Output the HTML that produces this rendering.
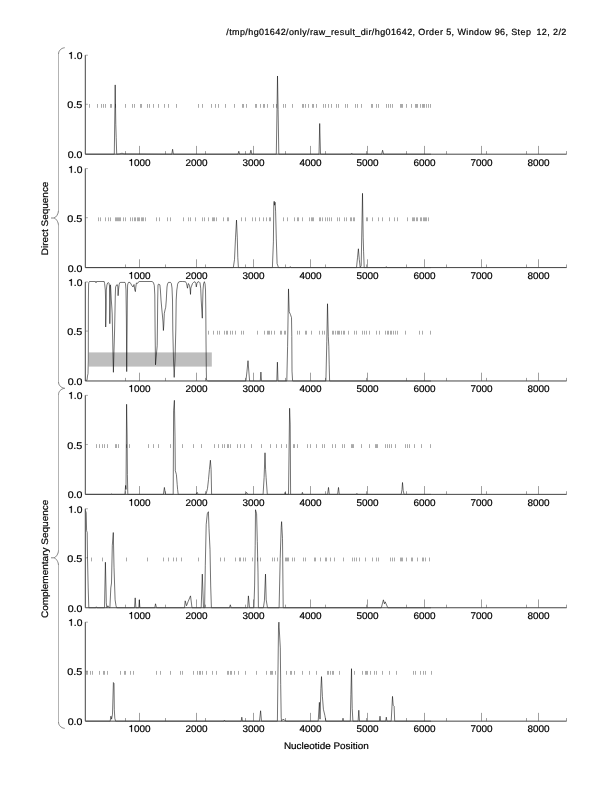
<!DOCTYPE html><html><head><meta charset="utf-8"><style>html,body{margin:0;padding:0;background:#fff;}svg{display:block;will-change:transform;}text{font-family:"Liberation Sans",sans-serif;stroke:#000;stroke-width:0.2px;text-rendering:geometricPrecision;}</style></head><body>
<svg width="612" height="792" viewBox="0 0 612 792">
<rect x="0" y="0" width="612" height="792" fill="#fff"/>
<text x="566.3" y="35.0" font-size="9" text-anchor="end" textLength="340" lengthAdjust="spacing" fill="#000">/tmp/hg01642/only/raw_result_dir/hg01642, Order 5, Window 96, Step &#8201;12, 2/2</text>
<path d="M89.5 104.00v3.8M97.5 104.00v3.8M101.5 104.00v3.8M103.5 104.00v3.8M105.5 104.00v3.8M110.5 104.00v3.8M111.5 104.00v3.8M115.5 104.00v3.8M125.5 104.00v3.8M132.5 104.00v3.8M134.5 104.00v3.8M140.5 104.00v3.8M141.5 104.00v3.8M147.5 104.00v3.8M149.5 104.00v3.8M153.5 104.00v3.8M158.5 104.00v3.8M164.5 104.00v3.8M168.5 104.00v3.8M176.5 104.00v3.8M198.5 104.00v3.8M202.5 104.00v3.8M211.5 104.00v3.8M215.5 104.00v3.8M218.5 104.00v3.8M225.5 104.00v3.8M234.5 104.00v3.8M242.5 104.00v3.8M243.5 104.00v3.8M246.5 104.00v3.8M255.5 104.00v3.8M256.5 104.00v3.8M260.5 104.00v3.8M263.5 104.00v3.8M264.5 104.00v3.8M267.5 104.00v3.8M273.5 104.00v3.8M276.5 104.00v3.8M283.5 104.00v3.8M285.5 104.00v3.8M292.5 104.00v3.8M302.5 104.00v3.8M303.5 104.00v3.8M305.5 104.00v3.8M308.5 104.00v3.8M312.5 104.00v3.8M313.5 104.00v3.8M316.5 104.00v3.8M323.5 104.00v3.8M325.5 104.00v3.8M328.5 104.00v3.8M331.5 104.00v3.8M336.5 104.00v3.8M338.5 104.00v3.8M345.5 104.00v3.8M347.5 104.00v3.8M355.5 104.00v3.8M357.5 104.00v3.8M361.5 104.00v3.8M371.5 104.00v3.8M372.5 104.00v3.8M376.5 104.00v3.8M378.5 104.00v3.8M386.5 104.00v3.8M388.5 104.00v3.8M390.5 104.00v3.8M392.5 104.00v3.8M400.5 104.00v3.8M401.5 104.00v3.8M402.5 104.00v3.8M406.5 104.00v3.8M411.5 104.00v3.8M415.5 104.00v3.8M416.5 104.00v3.8M417.5 104.00v3.8M420.5 104.00v3.8M422.5 104.00v3.8M423.5 104.00v3.8M424.5 104.00v3.8M426.5 104.00v3.8M428.5 104.00v3.8M430.5 104.00v3.8" stroke="#aaa" stroke-width="1" fill="none"/>
<path d="M125.5 154.20V151.10M165.5 154.20V151.10M205.5 154.20V151.10M245.5 154.20V151.10M285.5 154.20V151.10M325.5 154.20V151.10M366.5 154.20V151.10M406.5 154.20V151.10M446.5 154.20V151.10M486.5 154.20V151.10M526.5 154.20V151.10M566.5 154.20V151.10M139.5 154.20V145.90M196.5 154.20V145.90M253.5 154.20V145.90M310.5 154.20V145.90M367.5 154.20V145.90M424.5 154.20V145.90M481.5 154.20V145.90M538.5 154.20V145.90" stroke="#a0a0a0" stroke-width="1" fill="none"/>
<path d="M85.30 55.20h2.6M85.30 104.30h2.6" stroke="#888" stroke-width="0.7" fill="none"/>
<path d="M85.50 154.20 L114.30 154.20 L115.20 84.90 L115.80 124.50 L116.20 137.37 L116.70 154.20 L120.00 153.80 L122.00 153.21 L124.00 153.90 L171.80 154.20 L172.60 149.25 L173.40 154.20 L238.00 154.20 L238.80 151.23 L239.60 154.20 L250.00 154.20 L250.90 150.24 L251.80 154.20 L276.30 154.20 L277.00 109.65 L277.50 75.99 L278.10 109.65 L278.80 154.20 L319.00 154.20 L319.70 123.51 L320.50 154.20 L351.20 154.20 L351.80 153.21 L352.40 154.20 L381.60 154.20 L382.60 150.24 L383.60 154.20 L431.00 154.20" stroke="#000" stroke-width="0.55" fill="none" stroke-linejoin="round"/>
<path d="M85.30 55.20V154.20H566.60" stroke="#444" stroke-width="1" fill="none"/>
<path transform="translate(68.100 58.800) scale(0.01029 -0.00970)" d="M359 0L271 0L271 503L101 503L101 566C200 576 252 598 282 703L359 703Z" fill="#000" stroke="#000" stroke-width="0.2" vector-effect="non-scaling-stroke"/>
<text x="82.4" y="58.80" font-size="9.7" text-anchor="end" textLength="8.58" lengthAdjust="spacingAndGlyphs">.0</text>
<text x="82.4" y="107.80" font-size="9.7" text-anchor="end" textLength="15.10" lengthAdjust="spacingAndGlyphs">0.5</text>
<text x="82.4" y="157.80" font-size="9.7" text-anchor="end" textLength="14.70" lengthAdjust="spacingAndGlyphs">0.0</text>
<path transform="translate(128.450 165.800) scale(0.00994 -0.00970)" d="M359 0L271 0L271 503L101 503L101 566C200 576 252 598 282 703L359 703Z" fill="#000" stroke="#000" stroke-width="0.2" vector-effect="non-scaling-stroke"/>
<text x="133.97" y="165.80" font-size="9.7" textLength="16.58" lengthAdjust="spacingAndGlyphs">000</text>
<text x="196.50" y="165.80" font-size="9.7" text-anchor="middle" textLength="22.10" lengthAdjust="spacingAndGlyphs">2000</text>
<text x="253.50" y="165.80" font-size="9.7" text-anchor="middle" textLength="22.10" lengthAdjust="spacingAndGlyphs">3000</text>
<text x="310.50" y="165.80" font-size="9.7" text-anchor="middle" textLength="22.10" lengthAdjust="spacingAndGlyphs">4000</text>
<text x="367.50" y="165.80" font-size="9.7" text-anchor="middle" textLength="22.10" lengthAdjust="spacingAndGlyphs">5000</text>
<text x="424.50" y="165.80" font-size="9.7" text-anchor="middle" textLength="22.10" lengthAdjust="spacingAndGlyphs">6000</text>
<text x="481.50" y="165.80" font-size="9.7" text-anchor="middle" textLength="22.10" lengthAdjust="spacingAndGlyphs">7000</text>
<text x="538.50" y="165.80" font-size="9.7" text-anchor="middle" textLength="22.10" lengthAdjust="spacingAndGlyphs">8000</text>
<path d="M98.5 217.39v3.8M100.5 217.39v3.8M105.5 217.39v3.8M108.5 217.39v3.8M110.5 217.39v3.8M115.5 217.39v3.8M116.5 217.39v3.8M117.5 217.39v3.8M118.5 217.39v3.8M119.5 217.39v3.8M120.5 217.39v3.8M123.5 217.39v3.8M125.5 217.39v3.8M130.5 217.39v3.8M132.5 217.39v3.8M134.5 217.39v3.8M135.5 217.39v3.8M137.5 217.39v3.8M138.5 217.39v3.8M139.5 217.39v3.8M141.5 217.39v3.8M142.5 217.39v3.8M143.5 217.39v3.8M145.5 217.39v3.8M156.5 217.39v3.8M159.5 217.39v3.8M167.5 217.39v3.8M170.5 217.39v3.8M183.5 217.39v3.8M188.5 217.39v3.8M190.5 217.39v3.8M195.5 217.39v3.8M202.5 217.39v3.8M204.5 217.39v3.8M208.5 217.39v3.8M212.5 217.39v3.8M213.5 217.39v3.8M214.5 217.39v3.8M216.5 217.39v3.8M223.5 217.39v3.8M227.5 217.39v3.8M228.5 217.39v3.8M241.5 217.39v3.8M245.5 217.39v3.8M252.5 217.39v3.8M255.5 217.39v3.8M259.5 217.39v3.8M263.5 217.39v3.8M266.5 217.39v3.8M269.5 217.39v3.8M270.5 217.39v3.8M283.5 217.39v3.8M287.5 217.39v3.8M294.5 217.39v3.8M297.5 217.39v3.8M298.5 217.39v3.8M302.5 217.39v3.8M309.5 217.39v3.8M311.5 217.39v3.8M312.5 217.39v3.8M313.5 217.39v3.8M319.5 217.39v3.8M320.5 217.39v3.8M322.5 217.39v3.8M325.5 217.39v3.8M327.5 217.39v3.8M329.5 217.39v3.8M331.5 217.39v3.8M337.5 217.39v3.8M339.5 217.39v3.8M344.5 217.39v3.8M346.5 217.39v3.8M350.5 217.39v3.8M351.5 217.39v3.8M353.5 217.39v3.8M354.5 217.39v3.8M366.5 217.39v3.8M367.5 217.39v3.8M372.5 217.39v3.8M378.5 217.39v3.8M382.5 217.39v3.8M389.5 217.39v3.8M394.5 217.39v3.8M397.5 217.39v3.8M407.5 217.39v3.8M412.5 217.39v3.8M413.5 217.39v3.8M414.5 217.39v3.8M416.5 217.39v3.8M417.5 217.39v3.8M420.5 217.39v3.8M421.5 217.39v3.8M423.5 217.39v3.8M424.5 217.39v3.8M425.5 217.39v3.8M426.5 217.39v3.8M428.5 217.39v3.8" stroke="#aaa" stroke-width="1" fill="none"/>
<path d="M125.5 267.59V264.49M165.5 267.59V264.49M205.5 267.59V264.49M245.5 267.59V264.49M285.5 267.59V264.49M325.5 267.59V264.49M366.5 267.59V264.49M406.5 267.59V264.49M446.5 267.59V264.49M486.5 267.59V264.49M526.5 267.59V264.49M566.5 267.59V264.49M139.5 267.59V259.29M196.5 267.59V259.29M253.5 267.59V259.29M310.5 267.59V259.29M367.5 267.59V259.29M424.5 267.59V259.29M481.5 267.59V259.29M538.5 267.59V259.29" stroke="#a0a0a0" stroke-width="1" fill="none"/>
<path d="M85.30 168.59h2.6M85.30 217.69h2.6" stroke="#888" stroke-width="0.7" fill="none"/>
<path d="M85.50 267.59 L233.30 267.59 L234.50 259.67 L235.50 237.89 L236.50 220.07 L237.30 237.89 L237.80 257.69 L238.40 267.59 L272.40 267.59 L273.40 241.85 L273.80 203.24 L274.20 201.26 L274.60 205.22 L275.10 202.25 L275.60 211.16 L276.30 238.88 L277.10 263.63 L278.50 267.59 L289.50 267.59 L290.30 266.60 L291.00 267.59 L356.50 267.59 L357.50 257.69 L358.40 248.78 L359.30 259.67 L360.20 267.59 L361.20 265.61 L362.50 193.34 L363.20 237.89 L363.60 251.75 L364.20 267.59 L385.80 267.59 L386.30 266.60 L386.80 267.59 L431.00 267.59" stroke="#000" stroke-width="0.55" fill="none" stroke-linejoin="round"/>
<path d="M85.30 168.59V267.59H566.60" stroke="#444" stroke-width="1" fill="none"/>
<path transform="translate(68.100 172.800) scale(0.01029 -0.00970)" d="M359 0L271 0L271 503L101 503L101 566C200 576 252 598 282 703L359 703Z" fill="#000" stroke="#000" stroke-width="0.2" vector-effect="non-scaling-stroke"/>
<text x="82.4" y="172.80" font-size="9.7" text-anchor="end" textLength="8.58" lengthAdjust="spacingAndGlyphs">.0</text>
<text x="82.4" y="221.80" font-size="9.7" text-anchor="end" textLength="15.10" lengthAdjust="spacingAndGlyphs">0.5</text>
<text x="82.4" y="271.80" font-size="9.7" text-anchor="end" textLength="14.70" lengthAdjust="spacingAndGlyphs">0.0</text>
<path transform="translate(128.450 278.800) scale(0.00994 -0.00970)" d="M359 0L271 0L271 503L101 503L101 566C200 576 252 598 282 703L359 703Z" fill="#000" stroke="#000" stroke-width="0.2" vector-effect="non-scaling-stroke"/>
<text x="133.97" y="278.80" font-size="9.7" textLength="16.58" lengthAdjust="spacingAndGlyphs">000</text>
<text x="196.50" y="278.80" font-size="9.7" text-anchor="middle" textLength="22.10" lengthAdjust="spacingAndGlyphs">2000</text>
<text x="253.50" y="278.80" font-size="9.7" text-anchor="middle" textLength="22.10" lengthAdjust="spacingAndGlyphs">3000</text>
<text x="310.50" y="278.80" font-size="9.7" text-anchor="middle" textLength="22.10" lengthAdjust="spacingAndGlyphs">4000</text>
<text x="367.50" y="278.80" font-size="9.7" text-anchor="middle" textLength="22.10" lengthAdjust="spacingAndGlyphs">5000</text>
<text x="424.50" y="278.80" font-size="9.7" text-anchor="middle" textLength="22.10" lengthAdjust="spacingAndGlyphs">6000</text>
<text x="481.50" y="278.80" font-size="9.7" text-anchor="middle" textLength="22.10" lengthAdjust="spacingAndGlyphs">7000</text>
<text x="538.50" y="278.80" font-size="9.7" text-anchor="middle" textLength="22.10" lengthAdjust="spacingAndGlyphs">8000</text>
<rect x="88.80" y="352.40" width="123.00" height="14.20" fill="#bebebe"/>
<path d="M208.5 330.78v3.8M213.5 330.78v3.8M217.5 330.78v3.8M219.5 330.78v3.8M224.5 330.78v3.8M226.5 330.78v3.8M227.5 330.78v3.8M230.5 330.78v3.8M232.5 330.78v3.8M235.5 330.78v3.8M241.5 330.78v3.8M243.5 330.78v3.8M257.5 330.78v3.8M264.5 330.78v3.8M267.5 330.78v3.8M268.5 330.78v3.8M269.5 330.78v3.8M271.5 330.78v3.8M274.5 330.78v3.8M280.5 330.78v3.8M281.5 330.78v3.8M284.5 330.78v3.8M285.5 330.78v3.8M297.5 330.78v3.8M299.5 330.78v3.8M305.5 330.78v3.8M306.5 330.78v3.8M311.5 330.78v3.8M319.5 330.78v3.8M322.5 330.78v3.8M324.5 330.78v3.8M332.5 330.78v3.8M333.5 330.78v3.8M335.5 330.78v3.8M337.5 330.78v3.8M338.5 330.78v3.8M339.5 330.78v3.8M341.5 330.78v3.8M343.5 330.78v3.8M344.5 330.78v3.8M348.5 330.78v3.8M354.5 330.78v3.8M356.5 330.78v3.8M362.5 330.78v3.8M364.5 330.78v3.8M366.5 330.78v3.8M369.5 330.78v3.8M376.5 330.78v3.8M379.5 330.78v3.8M385.5 330.78v3.8M387.5 330.78v3.8M388.5 330.78v3.8M390.5 330.78v3.8M391.5 330.78v3.8M393.5 330.78v3.8M395.5 330.78v3.8M397.5 330.78v3.8M405.5 330.78v3.8M419.5 330.78v3.8M422.5 330.78v3.8M430.5 330.78v3.8" stroke="#aaa" stroke-width="1" fill="none"/>
<path d="M125.5 380.98V377.88M165.5 380.98V377.88M205.5 380.98V377.88M245.5 380.98V377.88M285.5 380.98V377.88M325.5 380.98V377.88M366.5 380.98V377.88M406.5 380.98V377.88M446.5 380.98V377.88M486.5 380.98V377.88M526.5 380.98V377.88M566.5 380.98V377.88M139.5 380.98V372.68M196.5 380.98V372.68M253.5 380.98V372.68M310.5 380.98V372.68M367.5 380.98V372.68M424.5 380.98V372.68M481.5 380.98V372.68M538.5 380.98V372.68" stroke="#a0a0a0" stroke-width="1" fill="none"/>
<path d="M85.30 281.98h2.6M85.30 331.08h2.6" stroke="#888" stroke-width="0.7" fill="none"/>
<path d="M85.50 380.40 L87.00 380.30 L87.50 376.00 L88.00 373.60 L88.30 360.00 L88.40 300.00 L88.60 284.00 L89.00 282.10 L89.50 281.50 L93.00 281.50 L95.50 281.50 L96.00 282.80 L96.50 281.50 L104.20 281.50 L104.60 283.50 L105.30 290.00 L105.60 300.00 L105.70 327.00 L106.10 310.00 L106.30 290.00 L106.90 285.00 L107.60 283.00 L108.50 282.60 L109.00 283.20 L109.50 286.00 L109.70 300.00 L109.80 323.70 L110.20 300.00 L110.30 285.00 L110.50 284.80 L110.80 290.00 L111.30 300.00 L111.80 307.00 L112.20 314.00 L112.50 330.00 L112.80 345.00 L113.00 355.00 L113.40 372.30 L114.00 350.00 L114.60 330.00 L115.00 310.00 L115.30 295.00 L115.60 287.00 L116.50 285.00 L117.20 284.50 L117.80 286.00 L118.10 295.70 L118.50 290.00 L119.20 284.20 L119.80 282.60 L120.80 282.40 L125.00 282.40 L125.50 283.50 L126.00 290.00 L126.40 320.00 L126.70 371.60 L127.10 330.00 L127.30 300.00 L127.60 285.00 L128.00 283.50 L128.50 282.40 L130.00 282.40 L131.00 284.00 L131.80 285.50 L133.00 287.00 L134.00 284.50 L134.80 290.00 L135.40 291.60 L135.80 287.00 L136.40 283.00 L137.40 283.50 L138.40 282.00 L139.10 281.50 L152.00 281.50 L153.40 282.50 L154.30 285.50 L154.80 295.00 L155.10 330.00 L155.50 364.80 L155.90 360.00 L157.20 345.70 L157.50 320.00 L157.70 300.00 L158.00 285.00 L158.50 284.10 L159.90 284.80 L160.40 290.00 L161.00 300.00 L161.90 310.00 L162.40 315.00 L163.00 322.00 L163.40 330.50 L163.80 325.00 L164.30 313.50 L165.00 310.00 L165.70 307.30 L166.30 300.00 L166.70 292.00 L167.00 287.00 L167.50 284.00 L168.40 282.40 L170.50 282.40 L171.30 283.40 L172.00 288.00 L172.50 300.00 L172.80 330.00 L173.50 360.00 L174.20 377.40 L175.00 360.00 L175.80 330.00 L176.20 300.00 L176.80 290.00 L177.30 286.90 L177.60 284.10 L178.60 282.10 L180.00 281.50 L182.70 281.50 L185.50 281.70 L186.50 283.50 L187.50 288.20 L188.00 285.00 L188.40 283.50 L189.50 285.50 L190.10 289.00 L190.50 294.40 L190.80 288.20 L191.50 286.20 L192.50 283.50 L193.50 282.40 L194.90 281.70 L195.90 283.50 L196.30 286.90 L196.90 283.50 L197.60 282.10 L199.00 281.70 L200.00 282.80 L200.70 288.20 L201.20 300.00 L201.80 310.00 L202.30 318.20 L202.60 305.00 L203.00 290.00 L203.60 283.50 L204.40 281.70 L205.10 284.10 L205.50 290.00 L205.80 310.00 L206.00 340.00 L206.30 370.00 L206.50 380.20 L207.50 380.40" stroke="#000" stroke-width="0.55" fill="none" stroke-linejoin="round"/>
<path d="M207.50 380.98 L245.90 380.98 L247.00 371.08 L248.00 360.69 L248.80 371.08 L249.60 380.98 L260.30 380.98 L260.90 372.07 L261.50 380.98 L276.80 380.98 L277.40 362.17 L278.00 380.98 L286.80 380.98 L287.60 346.33 L288.50 288.91 L289.20 311.68 L290.50 314.65 L291.50 317.62 L291.80 336.43 L292.00 371.08 L292.60 380.98 L325.90 380.98 L326.80 341.38 L327.50 303.76 L328.30 336.43 L328.80 346.33 L329.20 364.15 L329.60 380.98 L431.00 380.98" stroke="#000" stroke-width="0.55" fill="none" stroke-linejoin="round"/>
<path d="M85.30 281.98V380.98H566.60" stroke="#444" stroke-width="1" fill="none"/>
<path transform="translate(68.100 285.800) scale(0.01029 -0.00970)" d="M359 0L271 0L271 503L101 503L101 566C200 576 252 598 282 703L359 703Z" fill="#000" stroke="#000" stroke-width="0.2" vector-effect="non-scaling-stroke"/>
<text x="82.4" y="285.80" font-size="9.7" text-anchor="end" textLength="8.58" lengthAdjust="spacingAndGlyphs">.0</text>
<text x="82.4" y="334.80" font-size="9.7" text-anchor="end" textLength="15.10" lengthAdjust="spacingAndGlyphs">0.5</text>
<text x="82.4" y="384.80" font-size="9.7" text-anchor="end" textLength="14.70" lengthAdjust="spacingAndGlyphs">0.0</text>
<path transform="translate(128.450 391.800) scale(0.00994 -0.00970)" d="M359 0L271 0L271 503L101 503L101 566C200 576 252 598 282 703L359 703Z" fill="#000" stroke="#000" stroke-width="0.2" vector-effect="non-scaling-stroke"/>
<text x="133.97" y="391.80" font-size="9.7" textLength="16.58" lengthAdjust="spacingAndGlyphs">000</text>
<text x="196.50" y="391.80" font-size="9.7" text-anchor="middle" textLength="22.10" lengthAdjust="spacingAndGlyphs">2000</text>
<text x="253.50" y="391.80" font-size="9.7" text-anchor="middle" textLength="22.10" lengthAdjust="spacingAndGlyphs">3000</text>
<text x="310.50" y="391.80" font-size="9.7" text-anchor="middle" textLength="22.10" lengthAdjust="spacingAndGlyphs">4000</text>
<text x="367.50" y="391.80" font-size="9.7" text-anchor="middle" textLength="22.10" lengthAdjust="spacingAndGlyphs">5000</text>
<text x="424.50" y="391.80" font-size="9.7" text-anchor="middle" textLength="22.10" lengthAdjust="spacingAndGlyphs">6000</text>
<text x="481.50" y="391.80" font-size="9.7" text-anchor="middle" textLength="22.10" lengthAdjust="spacingAndGlyphs">7000</text>
<text x="538.50" y="391.80" font-size="9.7" text-anchor="middle" textLength="22.10" lengthAdjust="spacingAndGlyphs">8000</text>
<path d="M96.5 444.17v3.8M99.5 444.17v3.8M102.5 444.17v3.8M104.5 444.17v3.8M107.5 444.17v3.8M115.5 444.17v3.8M116.5 444.17v3.8M118.5 444.17v3.8M126.5 444.17v3.8M129.5 444.17v3.8M148.5 444.17v3.8M153.5 444.17v3.8M158.5 444.17v3.8M170.5 444.17v3.8M182.5 444.17v3.8M193.5 444.17v3.8M201.5 444.17v3.8M214.5 444.17v3.8M218.5 444.17v3.8M222.5 444.17v3.8M224.5 444.17v3.8M227.5 444.17v3.8M228.5 444.17v3.8M230.5 444.17v3.8M237.5 444.17v3.8M240.5 444.17v3.8M244.5 444.17v3.8M251.5 444.17v3.8M261.5 444.17v3.8M270.5 444.17v3.8M276.5 444.17v3.8M281.5 444.17v3.8M286.5 444.17v3.8M293.5 444.17v3.8M294.5 444.17v3.8M297.5 444.17v3.8M307.5 444.17v3.8M310.5 444.17v3.8M316.5 444.17v3.8M322.5 444.17v3.8M324.5 444.17v3.8M332.5 444.17v3.8M335.5 444.17v3.8M342.5 444.17v3.8M344.5 444.17v3.8M351.5 444.17v3.8M352.5 444.17v3.8M353.5 444.17v3.8M361.5 444.17v3.8M369.5 444.17v3.8M375.5 444.17v3.8M376.5 444.17v3.8M377.5 444.17v3.8M385.5 444.17v3.8M387.5 444.17v3.8M389.5 444.17v3.8M391.5 444.17v3.8M395.5 444.17v3.8M405.5 444.17v3.8M407.5 444.17v3.8M409.5 444.17v3.8M414.5 444.17v3.8M421.5 444.17v3.8M430.5 444.17v3.8" stroke="#aaa" stroke-width="1" fill="none"/>
<path d="M125.5 494.37V491.27M165.5 494.37V491.27M205.5 494.37V491.27M245.5 494.37V491.27M285.5 494.37V491.27M325.5 494.37V491.27M366.5 494.37V491.27M406.5 494.37V491.27M446.5 494.37V491.27M486.5 494.37V491.27M526.5 494.37V491.27M566.5 494.37V491.27M139.5 494.37V486.07M196.5 494.37V486.07M253.5 494.37V486.07M310.5 494.37V486.07M367.5 494.37V486.07M424.5 494.37V486.07M481.5 494.37V486.07M538.5 494.37V486.07" stroke="#a0a0a0" stroke-width="1" fill="none"/>
<path d="M85.30 395.37h2.6M85.30 444.47h2.6" stroke="#888" stroke-width="0.7" fill="none"/>
<path d="M85.50 494.37 L110.50 494.37 L111.20 493.88 L112.00 494.37 L124.90 494.37 L125.60 485.46 L126.00 489.42 L126.30 444.87 L126.60 404.28 L127.10 434.97 L127.40 474.57 L127.80 494.37 L163.40 494.37 L164.40 487.44 L165.40 494.37 L173.20 494.37 L173.60 410.22 L174.40 400.32 L175.00 436.95 L175.30 470.61 L176.40 474.57 L177.20 484.47 L177.60 489.42 L178.20 494.37 L196.00 494.37 L197.20 492.39 L198.00 494.37 L206.00 494.37 L207.50 488.43 L208.50 479.52 L209.40 469.62 L210.40 460.22 L211.10 469.62 L211.60 494.37 L245.70 494.37 L246.50 492.39 L248.00 494.37 L263.10 494.37 L264.10 477.54 L265.00 452.79 L265.60 469.62 L266.10 477.54 L267.30 494.37 L284.60 494.37 L285.10 492.39 L285.60 494.37 L288.50 494.37 L289.60 408.24 L290.20 424.08 L290.60 494.37 L301.80 494.37 L302.40 492.39 L303.00 494.37 L327.60 494.37 L328.50 487.44 L329.30 494.37 L337.60 494.37 L338.50 487.44 L339.30 494.37 L356.40 494.37 L356.90 493.38 L357.40 494.37 L401.20 494.37 L402.00 489.42 L402.50 482.49 L403.20 490.41 L404.00 494.37 L431.00 494.37" stroke="#000" stroke-width="0.55" fill="none" stroke-linejoin="round"/>
<path d="M85.30 395.37V494.37H566.60" stroke="#444" stroke-width="1" fill="none"/>
<path transform="translate(68.100 398.800) scale(0.01029 -0.00970)" d="M359 0L271 0L271 503L101 503L101 566C200 576 252 598 282 703L359 703Z" fill="#000" stroke="#000" stroke-width="0.2" vector-effect="non-scaling-stroke"/>
<text x="82.4" y="398.80" font-size="9.7" text-anchor="end" textLength="8.58" lengthAdjust="spacingAndGlyphs">.0</text>
<text x="82.4" y="448.80" font-size="9.7" text-anchor="end" textLength="15.10" lengthAdjust="spacingAndGlyphs">0.5</text>
<text x="82.4" y="497.80" font-size="9.7" text-anchor="end" textLength="14.70" lengthAdjust="spacingAndGlyphs">0.0</text>
<path transform="translate(128.450 505.800) scale(0.00994 -0.00970)" d="M359 0L271 0L271 503L101 503L101 566C200 576 252 598 282 703L359 703Z" fill="#000" stroke="#000" stroke-width="0.2" vector-effect="non-scaling-stroke"/>
<text x="133.97" y="505.80" font-size="9.7" textLength="16.58" lengthAdjust="spacingAndGlyphs">000</text>
<text x="196.50" y="505.80" font-size="9.7" text-anchor="middle" textLength="22.10" lengthAdjust="spacingAndGlyphs">2000</text>
<text x="253.50" y="505.80" font-size="9.7" text-anchor="middle" textLength="22.10" lengthAdjust="spacingAndGlyphs">3000</text>
<text x="310.50" y="505.80" font-size="9.7" text-anchor="middle" textLength="22.10" lengthAdjust="spacingAndGlyphs">4000</text>
<text x="367.50" y="505.80" font-size="9.7" text-anchor="middle" textLength="22.10" lengthAdjust="spacingAndGlyphs">5000</text>
<text x="424.50" y="505.80" font-size="9.7" text-anchor="middle" textLength="22.10" lengthAdjust="spacingAndGlyphs">6000</text>
<text x="481.50" y="505.80" font-size="9.7" text-anchor="middle" textLength="22.10" lengthAdjust="spacingAndGlyphs">7000</text>
<text x="538.50" y="505.80" font-size="9.7" text-anchor="middle" textLength="22.10" lengthAdjust="spacingAndGlyphs">8000</text>
<path d="M91.5 557.56v3.8M102.5 557.56v3.8M126.5 557.56v3.8M147.5 557.56v3.8M163.5 557.56v3.8M168.5 557.56v3.8M173.5 557.56v3.8M176.5 557.56v3.8M181.5 557.56v3.8M198.5 557.56v3.8M220.5 557.56v3.8M224.5 557.56v3.8M235.5 557.56v3.8M239.5 557.56v3.8M240.5 557.56v3.8M243.5 557.56v3.8M245.5 557.56v3.8M252.5 557.56v3.8M257.5 557.56v3.8M260.5 557.56v3.8M272.5 557.56v3.8M274.5 557.56v3.8M277.5 557.56v3.8M285.5 557.56v3.8M286.5 557.56v3.8M287.5 557.56v3.8M288.5 557.56v3.8M292.5 557.56v3.8M294.5 557.56v3.8M303.5 557.56v3.8M305.5 557.56v3.8M314.5 557.56v3.8M315.5 557.56v3.8M320.5 557.56v3.8M325.5 557.56v3.8M326.5 557.56v3.8M330.5 557.56v3.8M334.5 557.56v3.8M343.5 557.56v3.8M352.5 557.56v3.8M354.5 557.56v3.8M356.5 557.56v3.8M359.5 557.56v3.8M365.5 557.56v3.8M372.5 557.56v3.8M376.5 557.56v3.8M378.5 557.56v3.8M390.5 557.56v3.8M392.5 557.56v3.8M394.5 557.56v3.8M400.5 557.56v3.8M401.5 557.56v3.8M402.5 557.56v3.8M406.5 557.56v3.8M411.5 557.56v3.8M412.5 557.56v3.8M417.5 557.56v3.8M422.5 557.56v3.8M423.5 557.56v3.8M425.5 557.56v3.8M429.5 557.56v3.8" stroke="#aaa" stroke-width="1" fill="none"/>
<path d="M125.5 607.76V604.66M165.5 607.76V604.66M205.5 607.76V604.66M245.5 607.76V604.66M285.5 607.76V604.66M325.5 607.76V604.66M366.5 607.76V604.66M406.5 607.76V604.66M446.5 607.76V604.66M486.5 607.76V604.66M526.5 607.76V604.66M566.5 607.76V604.66M139.5 607.76V599.46M196.5 607.76V599.46M253.5 607.76V599.46M310.5 607.76V599.46M367.5 607.76V599.46M424.5 607.76V599.46M481.5 607.76V599.46M538.5 607.76V599.46" stroke="#a0a0a0" stroke-width="1" fill="none"/>
<path d="M85.30 508.76h2.6M85.30 557.86h2.6" stroke="#888" stroke-width="0.7" fill="none"/>
<path d="M85.50 510.74 L86.20 512.72 L86.60 530.54 L87.20 532.52 L87.50 558.26 L88.20 587.96 L88.80 607.76 L95.80 607.76 L96.30 606.77 L96.80 607.76 L104.50 607.76 L105.40 562.22 L106.00 587.96 L106.30 602.81 L106.80 607.76 L107.90 605.78 L108.80 607.26 L109.90 607.76 L110.80 587.96 L111.50 583.01 L112.30 545.39 L113.30 532.52 L114.00 567.17 L115.10 599.84 L116.00 605.78 L116.70 607.76 L134.50 607.76 L135.20 597.86 L135.90 607.76 L138.80 607.76 L139.30 599.84 L139.90 607.76 L154.80 607.76 L155.50 603.80 L156.50 607.76 L184.50 607.76 L185.20 600.83 L186.50 605.78 L188.00 601.82 L190.50 595.88 L192.00 607.76 L201.20 607.76 L202.30 574.10 L203.50 607.76 L204.60 607.76 L205.30 565.19 L206.20 524.60 L207.30 513.71 L208.40 511.73 L209.00 528.56 L210.00 549.35 L210.70 585.98 L211.40 607.76 L229.50 607.76 L230.30 604.79 L231.20 607.76 L247.70 607.76 L248.40 595.88 L249.50 607.76 L253.90 607.76 L254.60 585.98 L255.20 545.39 L255.50 509.75 L256.60 513.71 L257.30 541.43 L258.00 572.12 L258.40 607.76 L263.40 607.76 L264.40 600.83 L265.50 574.10 L266.20 599.84 L267.50 607.76 L279.10 607.76 L280.20 558.26 L281.20 527.57 L281.60 521.63 L282.50 538.46 L282.90 578.06 L283.20 607.76 L381.30 607.76 L383.40 599.84 L384.40 603.80 L385.20 601.82 L387.80 607.76 L431.00 607.76" stroke="#000" stroke-width="0.55" fill="none" stroke-linejoin="round"/>
<path d="M85.30 508.76V607.76H566.60" stroke="#444" stroke-width="1" fill="none"/>
<path transform="translate(68.100 512.800) scale(0.01029 -0.00970)" d="M359 0L271 0L271 503L101 503L101 566C200 576 252 598 282 703L359 703Z" fill="#000" stroke="#000" stroke-width="0.2" vector-effect="non-scaling-stroke"/>
<text x="82.4" y="512.80" font-size="9.7" text-anchor="end" textLength="8.58" lengthAdjust="spacingAndGlyphs">.0</text>
<text x="82.4" y="561.80" font-size="9.7" text-anchor="end" textLength="15.10" lengthAdjust="spacingAndGlyphs">0.5</text>
<text x="82.4" y="611.80" font-size="9.7" text-anchor="end" textLength="14.70" lengthAdjust="spacingAndGlyphs">0.0</text>
<path transform="translate(128.450 618.800) scale(0.00994 -0.00970)" d="M359 0L271 0L271 503L101 503L101 566C200 576 252 598 282 703L359 703Z" fill="#000" stroke="#000" stroke-width="0.2" vector-effect="non-scaling-stroke"/>
<text x="133.97" y="618.80" font-size="9.7" textLength="16.58" lengthAdjust="spacingAndGlyphs">000</text>
<text x="196.50" y="618.80" font-size="9.7" text-anchor="middle" textLength="22.10" lengthAdjust="spacingAndGlyphs">2000</text>
<text x="253.50" y="618.80" font-size="9.7" text-anchor="middle" textLength="22.10" lengthAdjust="spacingAndGlyphs">3000</text>
<text x="310.50" y="618.80" font-size="9.7" text-anchor="middle" textLength="22.10" lengthAdjust="spacingAndGlyphs">4000</text>
<text x="367.50" y="618.80" font-size="9.7" text-anchor="middle" textLength="22.10" lengthAdjust="spacingAndGlyphs">5000</text>
<text x="424.50" y="618.80" font-size="9.7" text-anchor="middle" textLength="22.10" lengthAdjust="spacingAndGlyphs">6000</text>
<text x="481.50" y="618.80" font-size="9.7" text-anchor="middle" textLength="22.10" lengthAdjust="spacingAndGlyphs">7000</text>
<text x="538.50" y="618.80" font-size="9.7" text-anchor="middle" textLength="22.10" lengthAdjust="spacingAndGlyphs">8000</text>
<path d="M86.5 670.95v3.8M87.5 670.95v3.8M90.5 670.95v3.8M92.5 670.95v3.8M99.5 670.95v3.8M103.5 670.95v3.8M104.5 670.95v3.8M107.5 670.95v3.8M120.5 670.95v3.8M124.5 670.95v3.8M125.5 670.95v3.8M130.5 670.95v3.8M133.5 670.95v3.8M156.5 670.95v3.8M160.5 670.95v3.8M170.5 670.95v3.8M180.5 670.95v3.8M182.5 670.95v3.8M193.5 670.95v3.8M197.5 670.95v3.8M199.5 670.95v3.8M200.5 670.95v3.8M202.5 670.95v3.8M206.5 670.95v3.8M212.5 670.95v3.8M216.5 670.95v3.8M227.5 670.95v3.8M228.5 670.95v3.8M230.5 670.95v3.8M231.5 670.95v3.8M234.5 670.95v3.8M238.5 670.95v3.8M245.5 670.95v3.8M256.5 670.95v3.8M266.5 670.95v3.8M270.5 670.95v3.8M271.5 670.95v3.8M272.5 670.95v3.8M275.5 670.95v3.8M286.5 670.95v3.8M290.5 670.95v3.8M291.5 670.95v3.8M294.5 670.95v3.8M302.5 670.95v3.8M309.5 670.95v3.8M316.5 670.95v3.8M327.5 670.95v3.8M328.5 670.95v3.8M330.5 670.95v3.8M332.5 670.95v3.8M333.5 670.95v3.8M339.5 670.95v3.8M354.5 670.95v3.8M362.5 670.95v3.8M365.5 670.95v3.8M366.5 670.95v3.8M367.5 670.95v3.8M370.5 670.95v3.8M374.5 670.95v3.8M376.5 670.95v3.8M382.5 670.95v3.8M389.5 670.95v3.8M396.5 670.95v3.8M413.5 670.95v3.8M415.5 670.95v3.8M420.5 670.95v3.8M423.5 670.95v3.8M425.5 670.95v3.8M431.5 670.95v3.8" stroke="#aaa" stroke-width="1" fill="none"/>
<path d="M125.5 721.15V718.05M165.5 721.15V718.05M205.5 721.15V718.05M245.5 721.15V718.05M285.5 721.15V718.05M325.5 721.15V718.05M366.5 721.15V718.05M406.5 721.15V718.05M446.5 721.15V718.05M486.5 721.15V718.05M526.5 721.15V718.05M566.5 721.15V718.05M139.5 721.15V712.85M196.5 721.15V712.85M253.5 721.15V712.85M310.5 721.15V712.85M367.5 721.15V712.85M424.5 721.15V712.85M481.5 721.15V712.85M538.5 721.15V712.85" stroke="#a0a0a0" stroke-width="1" fill="none"/>
<path d="M85.30 622.15h2.6M85.30 671.25h2.6" stroke="#888" stroke-width="0.7" fill="none"/>
<path d="M85.50 721.15 L110.20 721.15 L110.90 716.20 L111.60 719.17 L112.50 714.22 L113.40 682.54 L114.00 683.53 L114.30 709.27 L114.80 718.18 L115.60 721.15 L224.00 721.15 L224.40 720.16 L225.00 721.15 L241.20 721.15 L241.80 717.19 L242.40 721.15 L259.50 721.15 L260.60 710.76 L261.50 721.15 L277.40 721.15 L278.50 627.10 L278.90 622.15 L279.70 637.00 L280.30 647.89 L280.70 684.52 L281.20 717.19 L281.50 721.15 L283.00 719.17 L284.50 720.16 L286.00 721.15 L318.20 721.15 L319.40 702.34 L320.00 719.17 L320.90 688.48 L321.50 676.60 L322.40 696.40 L323.40 709.27 L324.80 715.21 L325.90 721.15 L342.50 721.15 L343.00 718.18 L343.50 721.15 L350.30 721.15 L350.90 694.42 L351.50 668.68 L352.20 708.28 L352.90 721.15 L358.10 721.15 L358.80 710.26 L359.50 721.15 L379.40 721.15 L380.00 716.20 L380.60 721.15 L385.70 721.15 L386.30 717.19 L386.90 721.15 L391.20 721.15 L392.50 696.40 L393.20 705.31 L394.10 706.30 L394.70 721.15 L431.00 721.15" stroke="#000" stroke-width="0.55" fill="none" stroke-linejoin="round"/>
<path d="M85.30 622.15V721.15H566.60" stroke="#444" stroke-width="1" fill="none"/>
<path transform="translate(68.100 625.800) scale(0.01029 -0.00970)" d="M359 0L271 0L271 503L101 503L101 566C200 576 252 598 282 703L359 703Z" fill="#000" stroke="#000" stroke-width="0.2" vector-effect="non-scaling-stroke"/>
<text x="82.4" y="625.80" font-size="9.7" text-anchor="end" textLength="8.58" lengthAdjust="spacingAndGlyphs">.0</text>
<text x="82.4" y="674.80" font-size="9.7" text-anchor="end" textLength="15.10" lengthAdjust="spacingAndGlyphs">0.5</text>
<text x="82.4" y="724.80" font-size="9.7" text-anchor="end" textLength="14.70" lengthAdjust="spacingAndGlyphs">0.0</text>
<path transform="translate(128.450 731.800) scale(0.00994 -0.00970)" d="M359 0L271 0L271 503L101 503L101 566C200 576 252 598 282 703L359 703Z" fill="#000" stroke="#000" stroke-width="0.2" vector-effect="non-scaling-stroke"/>
<text x="133.97" y="731.80" font-size="9.7" textLength="16.58" lengthAdjust="spacingAndGlyphs">000</text>
<text x="196.50" y="731.80" font-size="9.7" text-anchor="middle" textLength="22.10" lengthAdjust="spacingAndGlyphs">2000</text>
<text x="253.50" y="731.80" font-size="9.7" text-anchor="middle" textLength="22.10" lengthAdjust="spacingAndGlyphs">3000</text>
<text x="310.50" y="731.80" font-size="9.7" text-anchor="middle" textLength="22.10" lengthAdjust="spacingAndGlyphs">4000</text>
<text x="367.50" y="731.80" font-size="9.7" text-anchor="middle" textLength="22.10" lengthAdjust="spacingAndGlyphs">5000</text>
<text x="424.50" y="731.80" font-size="9.7" text-anchor="middle" textLength="22.10" lengthAdjust="spacingAndGlyphs">6000</text>
<text x="481.50" y="731.80" font-size="9.7" text-anchor="middle" textLength="22.10" lengthAdjust="spacingAndGlyphs">7000</text>
<text x="538.50" y="731.80" font-size="9.7" text-anchor="middle" textLength="22.10" lengthAdjust="spacingAndGlyphs">8000</text>
<path d="M58.5 54.2V210.5M58.5 225.5V381.8" stroke="#a0a0a0" stroke-width="0.8" fill="none"/><path d="M64.7 47.7 C61.0 48.2 58.5 50.7 58.5 54.2 M58.5 210.5 C58.5 214.0 56.0 217.5 54.0 218.0 H51.0 M54.0 218.0 C56.0 218.5 58.5 222.0 58.5 225.5 M58.5 381.8 C58.5 385.3 61.0 387.8 64.7 388.3" stroke="#777" stroke-width="0.9" fill="none"/>
<path d="M58.5 394.8V550.3M58.5 565.3V721.9" stroke="#a0a0a0" stroke-width="0.8" fill="none"/><path d="M64.7 388.3 C61.0 388.8 58.5 391.3 58.5 394.8 M58.5 550.3 C58.5 553.8 56.0 557.3 54.0 557.8 H51.0 M54.0 557.8 C56.0 558.3 58.5 561.8 58.5 565.3 M58.5 721.9 C58.5 725.4 61.0 727.9 64.7 728.4" stroke="#777" stroke-width="0.9" fill="none"/>
<text transform="translate(48.0 218.4) rotate(-90)" font-size="9.4" text-anchor="middle" textLength="73.6" lengthAdjust="spacingAndGlyphs">Direct Sequence</text>
<text transform="translate(48.1 558.9) rotate(-90)" font-size="9.4" text-anchor="middle" textLength="118.4" lengthAdjust="spacingAndGlyphs">Complementary Sequence</text>
<text x="326.3" y="749" font-size="9.4" text-anchor="middle" textLength="84.8" lengthAdjust="spacingAndGlyphs">Nucleotide Position</text>
</svg></body></html>
